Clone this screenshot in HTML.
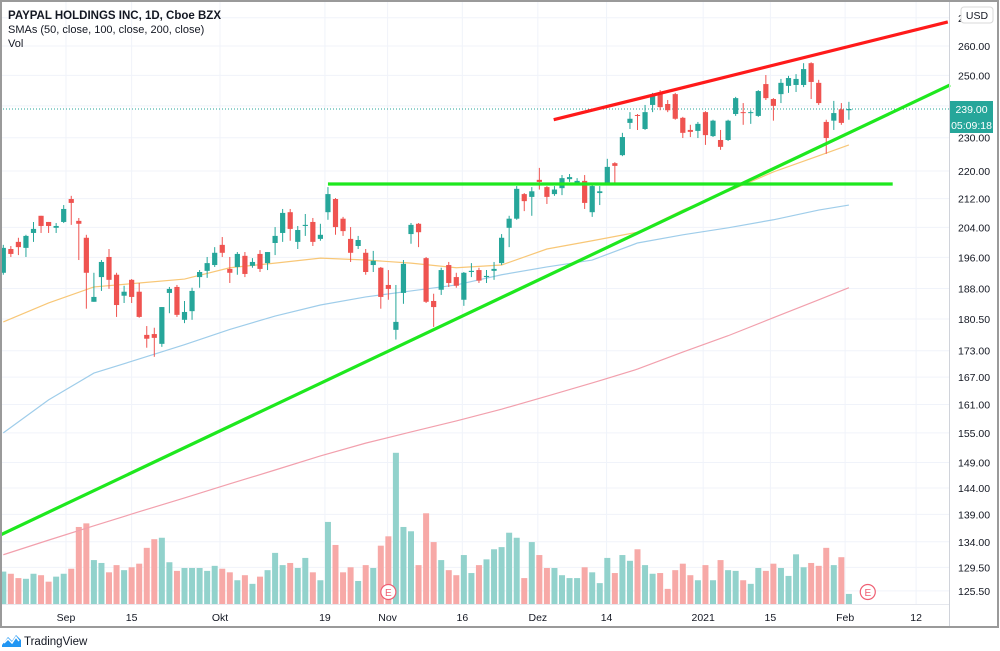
<!DOCTYPE html>
<html><head><meta charset="utf-8"><style>
html,body{margin:0;padding:0;background:#fff;width:1000px;height:651px;overflow:hidden}
svg{display:block;font-family:"Liberation Sans",Arial,sans-serif}
</style></head><body>
<svg id="c" width="1000" height="651" viewBox="0 0 1000 651">
<rect x="0" y="0" width="1000" height="651" fill="#fff"/>
<g id="grid"></g>
<g id="vol"></g>
<g id="mas"></g>
<g id="candles"></g>
<g id="draw"></g>
<g id="axes"></g>
<rect x="1" y="1" width="997" height="626" fill="none" stroke="#9a9a9a" stroke-width="2"/>
<text x="8" y="19" font-size="11.5" font-weight="bold" fill="#131722">PAYPAL HOLDINGS INC, 1D, Cboe BZX</text>
<text x="8" y="33" font-size="11" fill="#131722">SMAs (50, close, 100, close, 200, close)</text>
<text x="8" y="47" font-size="11" fill="#131722">Vol</text>
<g><rect x="961" y="7" width="32" height="16" rx="3" fill="#fff" stroke="#d8d8d8"/><text x="977" y="19" font-size="10.5" text-anchor="middle" fill="#131722">USD</text></g>
<g>
<path d="M2 645 L8 637 L12 641 L16 635 L21 640 L21 647 L2 647 Z" fill="#2196f3"/>
<path d="M4 643 L8 639 L12 643 L16 637 L19 641" stroke="#fff" stroke-width="1.5" fill="none"/>
<text x="24" y="645" font-size="11.5" fill="#131722">TradingView</text></g>
</svg>
<script>
const opens=[192.0,198.2,200.1,198.5,202.5,207.2,205.5,203.9,205.5,211.9,205.8,201.2,184.7,190.9,196.1,191.5,186.2,190.2,187.2,176.7,176.9,174.6,186.9,188.4,180.3,182.4,190.9,192.5,194.0,199.3,193.0,193.5,196.4,193.8,196.9,194.5,199.8,202.5,208.2,200.1,204.4,205.5,200.9,208.2,211.9,206.4,200.9,199.0,197.2,194.0,193.3,188.9,177.9,186.9,202.2,205.0,195.8,184.9,187.7,194.0,190.9,185.2,192.2,192.7,190.9,192.5,194.5,203.9,206.4,213.3,212.5,217.4,215.3,213.3,215.0,217.6,216.5,217.1,208.2,213.6,216.2,222.3,224.7,234.6,237.1,232.7,240.3,244.2,240.6,243.8,236.2,232.4,232.1,238.0,230.5,229.3,229.3,237.4,238.0,237.7,236.8,247.1,242.2,243.8,246.5,246.8,246.8,254.1,247.5,234.9,235.3,238.9,238.6];
const highs=[199.3,199.0,201.2,202.0,205.5,207.2,205.5,205.2,210.2,212.8,206.6,202.0,192.0,195.3,198.2,192.0,188.7,190.4,189.4,178.8,178.4,183.4,188.4,188.9,184.9,188.2,192.7,196.1,198.7,201.4,196.1,197.4,197.4,195.8,197.9,197.4,204.1,209.1,209.1,204.4,207.7,206.6,205.0,215.3,212.2,206.9,204.1,201.7,198.2,197.7,193.5,192.7,188.9,195.3,205.2,205.2,196.1,186.7,193.3,194.8,192.0,192.2,194.5,193.3,192.7,194.8,202.2,207.2,215.6,213.6,215.3,220.9,215.6,215.6,218.8,219.1,217.9,218.8,215.9,215.6,223.6,222.6,231.5,238.0,237.4,240.3,244.2,245.1,241.9,244.2,236.5,234.0,234.9,238.3,235.6,232.4,235.6,242.9,240.9,238.6,245.1,250.1,242.5,248.8,249.8,250.4,254.1,254.4,248.5,235.6,241.6,240.9,241.3];
const lows=[191.5,196.1,196.6,196.1,200.1,202.5,202.5,202.5,205.2,204.7,195.3,183.0,184.7,187.4,187.9,181.0,184.4,184.4,180.8,173.7,171.6,173.9,181.9,181.0,179.5,180.3,188.2,190.7,193.5,196.1,189.4,191.5,190.9,193.3,192.2,192.7,196.6,200.1,200.4,198.2,201.7,199.0,200.4,206.1,202.0,201.7,194.8,198.2,191.5,192.2,183.0,185.2,175.6,184.2,199.6,198.7,184.4,178.6,186.4,188.4,188.2,183.7,190.9,189.4,189.4,190.2,194.0,198.7,206.1,208.5,207.2,214.6,210.5,212.8,213.0,216.8,215.9,209.1,206.9,210.2,215.9,216.5,224.4,232.7,232.4,232.4,238.0,238.6,238.0,235.6,229.9,230.2,229.9,227.8,230.2,226.3,229.0,236.8,234.0,234.3,236.5,241.9,235.3,240.9,244.2,244.5,246.1,242.2,240.3,225.1,232.4,234.0,235.6];
const closes=[198.5,196.9,198.7,201.7,203.6,204.4,204.4,204.4,209.1,210.8,205.0,192.0,185.9,194.8,190.2,183.9,187.2,185.9,181.0,175.8,176.0,183.4,187.9,181.5,182.2,187.4,192.2,194.5,197.2,197.2,192.0,196.9,191.7,194.8,193.0,197.4,201.7,208.0,203.6,203.3,204.7,200.1,202.0,213.3,204.1,203.0,197.2,200.6,192.2,195.1,185.9,187.9,179.8,194.3,204.7,202.7,184.7,183.4,192.7,189.4,188.7,192.0,192.5,190.0,191.2,193.0,201.2,206.4,214.8,211.3,214.1,216.8,212.5,214.6,217.9,218.2,217.1,210.8,215.6,214.1,221.2,221.5,230.2,235.9,236.8,238.0,243.2,239.6,238.6,235.9,231.5,231.8,234.3,230.8,235.3,227.2,235.3,242.5,237.7,238.0,244.8,242.5,240.0,247.5,249.1,248.8,252.1,247.8,240.9,229.9,237.7,234.6,239.0];
const volumes=[4.5,4.2,3.6,3.5,4.2,4.0,3.1,3.8,4.2,4.9,10.7,11.2,6.1,5.7,4.4,5.4,4.7,5.1,5.6,7.8,9.0,9.2,5.8,4.6,5.0,5.0,5.0,4.6,5.3,4.9,4.4,3.3,4.0,2.8,3.8,4.7,7.1,5.4,5.7,5.0,6.4,4.4,3.3,11.4,8.2,4.4,5.1,3.2,5.4,5.0,8.1,9.4,21.0,10.7,10.1,5.4,12.6,8.6,6.1,4.7,4.0,6.8,4.3,5.4,6.2,7.6,7.9,9.9,9.2,3.6,8.6,6.8,5.0,5.0,4.0,3.6,3.6,5.1,4.4,2.9,6.4,4.3,6.8,6.0,7.6,5.4,4.2,4.3,2.1,4.7,5.6,4.0,3.3,5.4,3.3,6.1,4.7,4.6,3.3,2.8,5.0,4.6,5.6,5.0,3.9,6.9,5.1,5.7,5.3,7.8,5.4,6.5,1.4];
const maIdx=[0,6,12,18,24,30,36,42,48,54,60,66,72,78,84,90,96,102,108,112];
const sma50=[179.8,184.4,188.4,189.4,190.4,193.3,194.5,195.8,195.3,194.5,193.3,194.0,198.2,200.4,202.7,208.8,214.1,219.7,224.5,227.8];
const sma100=[155.0,162.0,167.9,171.1,174.4,178.0,181.2,183.9,185.9,187.4,188.9,191.5,193.5,195.3,199.8,202.0,203.9,206.1,208.8,210.2];
const sma200=[131.7,134.3,136.9,139.5,142.1,144.8,147.5,150.3,152.9,155.2,157.5,160.0,162.8,165.7,168.8,172.7,176.5,180.8,185.2,188.2];
const priceTicks=[270,260,250,240,230,220,212,204,196,188,180.5,173,167,161,155,149,144,139,134,129.5,125.5];
const timeLabels=["Sep","15","Okt","19","Nov","16","Dez","14","2021","15","Feb","12"];
const timeIdx=[8.3,17.0,28.7,42.6,50.9,60.8,70.8,79.9,92.7,101.6,111.5,120.9];
const lastPrice=239.0;
const earningsIdx=[51,114.5];
const resistIdx=[72.9,125.1], resistPx=[235.6,268.5];
const supportIdx=[-0.44,125.4], supportPx=[135.2,246.8];
const levelIdx=[43,117.8], levelPx=[216.2,216.2];

const NS="http://www.w3.org/2000/svg";
const X=i=>3.3+7.55*i;
const Y=p=>46-748*Math.log(p/260);
const VB=604, VK=7.2;
function mk(tag,attrs,parent){const e=document.createElementNS(NS,tag);for(const k in attrs)e.setAttribute(k,attrs[k]);parent.appendChild(e);return e;}
const grid=document.getElementById('grid'),axes=document.getElementById('axes');
priceTicks.forEach(p=>{const y=Y(p);
 const l=mk('line',{x1:0,x2:949,y1:y,y2:y,stroke:'#f0f3fa','stroke-width':1},grid);
 
 
 if(p===240)return;
 const t=mk('text',{x:958,y:y+4,'font-size':10.5,fill:'#131722'},axes);
 t.textContent=p.toFixed(2);
 
 
});
timeIdx.forEach((ix,k)=>{const x=X(ix);
 const l=mk('line',{x1:x,x2:x,y1:0,y2:604,stroke:'#f0f3fa','stroke-width':1},grid);
 
 
 const t=mk('text',{x:x,y:621,'font-size':10.5,fill:'#131722','text-anchor':'middle'},axes);
 t.textContent=timeLabels[k];
 
 
});
const sep=mk('line',{x1:949.5,x2:949.5,y1:0,y2:627,stroke:'#d0d3da','stroke-width':1},axes);


const sep2=mk('line',{x1:0,x2:949,y1:604.5,y2:604.5,stroke:'#e6e8ee','stroke-width':1},axes);



// volume
const vol=document.getElementById('vol');
volumes.forEach((v,i)=>{const h=v*VK;const up=closes[i]>=opens[i];
 const r=mk('rect',{x:X(i)-3,y:VB-h,width:6,height:h,fill:up?'#92d2cc':'#f7a9a7'},vol);
 
 
});
// earnings
earningsIdx.forEach(ix=>{const g=mk('g',{},vol);
 
 
 mk('circle',{cx:X(ix),cy:592,r:7.5,fill:'#fff',stroke:'#ef5f73','stroke-width':1.2},g);
 const t=mk('text',{x:X(ix),y:596,'font-size':10,fill:'#ef5f73','text-anchor':'middle'},g);t.textContent='E';
});
// MAs
const mas=document.getElementById('mas');
[[sma200,'#f2a0ad','sma-200-line'],[sma100,'#9fcdea','sma-100-line'],[sma50,'#f8c777','sma-50-line']].forEach(([arr,col,nm])=>{
 const pts=arr.map((p,k)=>X(maIdx[k])+','+Y(p)).join(' ');
 const pl=mk('polyline',{points:pts,fill:'none',stroke:col,'stroke-width':1.2},mas);
 
 
});
// last price line
const ply=Y(lastPrice);
const pln=mk('line',{x1:0,x2:949,y1:ply,y2:ply,stroke:'#26a69a','stroke-width':1,'stroke-dasharray':'1,2'},mas);


// candles
const cg=document.getElementById('candles');
opens.forEach((o,i)=>{const c=closes[i],up=c>=o,col=up?'#26a69a':'#ef5350',x=X(i);
 const g=mk('g',{},cg);
 
 
 mk('line',{x1:x,x2:x,y1:Y(highs[i]),y2:Y(lows[i]),stroke:col,'stroke-width':1},g);
 const top=Y(Math.max(o,c)),bot=Y(Math.min(o,c));
 mk('rect',{x:x-2.6,y:top,width:5.2,height:Math.max(1,bot-top),fill:col},g);
});
// drawings
const dg=document.getElementById('draw');
[[resistIdx,resistPx,'#ff1a1a','resistance-line'],[supportIdx,supportPx,'#1ee81e','support-trend-line'],[levelIdx,levelPx,'#1ee81e','horizontal-level-line']].forEach(([ix,px,col,nm])=>{
 const l=mk('line',{x1:X(ix[0]),y1:Y(px[0]),x2:X(ix[1]),y2:Y(px[1]),stroke:col,'stroke-width':3.2,'stroke-linecap':'butt'},dg);
 
 
});
// price tags
const t1=mk('g',{},axes);


mk('rect',{x:950,y:ply-8,width:43,height:16,fill:'#26a69a'},t1);
const tx1=mk('text',{x:971.5,y:ply+4,'font-size':10.5,fill:'#fff','text-anchor':'middle'},t1);tx1.textContent=lastPrice.toFixed(2);
const t2=mk('g',{},axes);


mk('rect',{x:950,y:ply+8,width:43,height:16,fill:'#26a69a'},t2);
const tx2=mk('text',{x:971.5,y:ply+20,'font-size':10.5,fill:'#fff','text-anchor':'middle'},t2);tx2.textContent='05:09:18';
</script>
</body></html>
